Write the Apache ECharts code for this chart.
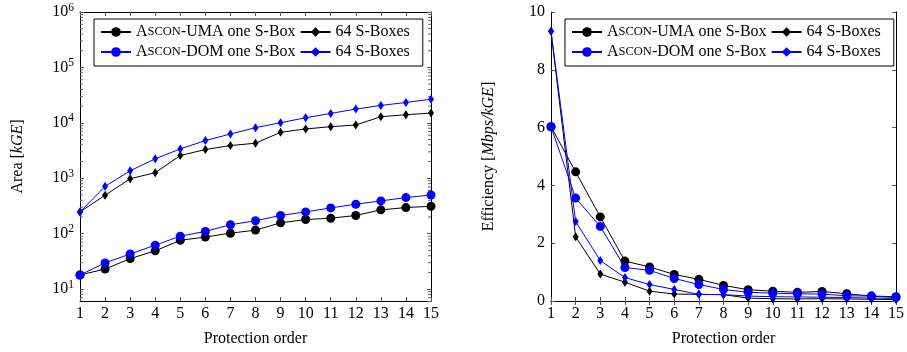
<!DOCTYPE html>
<html>
<head>
<meta charset="utf-8">
<title>Ascon area and efficiency</title>
<script src="https://cdn.jsdelivr.net/npm/echarts@6/dist/echarts.min.js"></script>
<style>
  html, body { margin: 0; background: #fff; }
  #chart { width: 907px; height: 352px; }
</style>
</head>
<body>
<div id="chart"></div>
<script>
// protection order on x
var orders = [1, 2, 3, 4, 5, 6, 7, 8, 9, 10, 11, 12, 13, 14, 15];

// area [kGE]
var areaUmaOne = [18, 23, 35.5, 49, 76, 87, 102, 116, 157, 180, 190, 213, 269, 296, 313];
var areaUma64  = [247, 493, 980, 1260, 2570, 3300, 3890, 4290, 6750, 7750, 8530, 9140, 12900, 14000, 15000];
var areaDomOne = [18, 29.7, 43, 62, 90, 110, 145, 171, 213, 247, 292, 340, 390, 448, 500];
var areaDom64  = [247, 714, 1365, 2240, 3390, 4780, 6290, 8180, 10050, 12360, 14800, 17700, 20600, 23300, 26700];

// efficiency [Mbps/kGE]
var effUmaOne = [6.03, 4.47, 2.91, 1.38, 1.18, 0.92, 0.75, 0.54, 0.39, 0.34, 0.30, 0.33, 0.25, 0.17, 0.15];
var effUma64  = [9.33, 2.22, 0.93, 0.65, 0.34, 0.24, 0.23, 0.22, 0.10, 0.08, 0.07, 0.08, 0.07, 0.06, 0.05];
var effDomOne = [6.03, 3.56, 2.58, 1.16, 1.06, 0.78, 0.57, 0.40, 0.30, 0.27, 0.25, 0.24, 0.18, 0.17, 0.12];
var effDom64  = [9.33, 2.75, 1.40, 0.81, 0.57, 0.40, 0.23, 0.22, 0.17, 0.15, 0.14, 0.13, 0.12, 0.10, 0.09];

var names = ['ASCON-UMA one S-Box', 'ASCON-UMA 64 S-Boxes', 'ASCON-DOM one S-Box', 'ASCON-DOM 64 S-Boxes'];
var legendText = {
  'ASCON-UMA one S-Box': 'A{sc|SCON}-UMA one S-Box',
  'ASCON-UMA 64 S-Boxes': '64 S-Boxes',
  'ASCON-DOM one S-Box': 'A{sc|SCON}-DOM one S-Box',
  'ASCON-DOM 64 S-Boxes': '64 S-Boxes'
};

var FONT = 'Liberation Serif';
var FS = 16;
var chart = echarts.init(document.getElementById('chart'));

function pairs(vals) {
  return orders.map(function (o, i) { return [o, vals[i]]; });
}

// minor ticks of the log axis (2..9 x 10^n)
var minorVals = [];
for (var e = 0; e < 6; e++) {
  for (var m = 2; m <= 9; m++) {
    var v = m * Math.pow(10, e);
    if (v > 6.2) minorVals.push([1, v]);
  }
}

function xAxes(grid) {
  return [
    {
      type: 'value', gridIndex: grid, min: 1, max: 15, interval: 1, position: 'bottom',
      name: 'Protection order', nameLocation: 'middle', nameGap: 30,
      nameTextStyle: { fontFamily: FONT, fontSize: FS, color: '#000' },
      axisLine: { lineStyle: { color: '#000', width: 1 } },
      axisTick: { inside: true, length: 4, lineStyle: { color: '#555' } },
      axisLabel: { fontFamily: FONT, fontSize: FS, color: '#000', margin: 5 },
      splitLine: { show: false }
    },
    {
      type: 'value', gridIndex: grid, min: 1, max: 15, interval: 1, position: 'top',
      axisLine: { lineStyle: { color: '#000', width: 1 } },
      axisTick: { inside: true, length: 4, lineStyle: { color: '#555' } },
      axisLabel: { show: false },
      splitLine: { show: false }
    }
  ];
}

var supLabel = {
  fontFamily: FONT, color: '#000', margin: 6, showMinLabel: false,
  formatter: function (v) {
    var p = Math.round(Math.log10(v));
    return '{b|10}{s|' + p + '}';
  },
  rich: {
    b: { fontFamily: FONT, fontSize: FS, color: '#000' },
    s: { fontFamily: FONT, fontSize: 11.5, color: '#000', padding: [0, 0, 9, 0] }
  }
};

function line(name, data, xi, yi, color, diamond) {
  return {
    name: name, type: 'line', xAxisIndex: xi, yAxisIndex: yi,
    data: pairs(data),
    symbol: diamond ? 'diamond' : 'circle',
    symbolSize: diamond ? [6, 9] : 9,
    showAllSymbol: true,
    lineStyle: { color: color, width: 1 },
    itemStyle: { color: color },
    emphasis: { disabled: true },
    animation: false
  };
}

function legend(left) {
  return {
    left: left, top: 19, width: 330,
    orient: 'horizontal',
    data: names,
    itemWidth: 30, itemHeight: 12, itemGap: 4,
    padding: [5, 13, 6, 6],
    borderColor: '#000', borderWidth: 1,
    formatter: function (n) { return legendText[n]; },
    textStyle: {
      fontFamily: FONT, fontSize: FS, color: '#000',
      rich: { sc: { fontFamily: FONT, fontSize: 12.5, color: '#000' } }
    },
    selectedMode: false
  };
}

var option = {
  backgroundColor: '#fff',
  animation: false,
  legend: [legend(94), legend(565)],
  grid: [
    { left: 80, right: 476, top: 12, bottom: 49 },
    { left: 551, right: 6, top: 12, bottom: 50 }
  ],
  xAxis: xAxes(0).concat(xAxes(1)),
  yAxis: [
    {
      type: 'log', logBase: 10, gridIndex: 0, min: 6.1, max: 1000000, position: 'left',
      name: 'Area [{i|kGE}]', nameLocation: 'middle', nameGap: 54,
      nameTextStyle: { fontFamily: FONT, fontSize: FS, color: '#000',
        rich: { i: { fontFamily: FONT, fontSize: FS, fontStyle: 'italic', color: '#000' } } },
      axisLine: { show: true, lineStyle: { color: '#000', width: 1 } },
      axisTick: { inside: true, length: 4, lineStyle: { color: '#555' } },
      axisLabel: supLabel,
      splitLine: { show: false }
    },
    {
      type: 'log', logBase: 10, gridIndex: 0, min: 6.1, max: 1000000, position: 'right',
      axisLine: { show: true, lineStyle: { color: '#000', width: 1 } },
      axisTick: { inside: true, length: 4, lineStyle: { color: '#555' } },
      axisLabel: { show: false },
      splitLine: { show: false }
    },
    {
      type: 'value', gridIndex: 1, min: 0, max: 10, interval: 2, position: 'left',
      name: 'Efficiency [{i|Mbps/kGE}]', nameLocation: 'middle', nameGap: 54,
      nameTextStyle: { fontFamily: FONT, fontSize: FS, color: '#000',
        rich: { i: { fontFamily: FONT, fontSize: FS, fontStyle: 'italic', color: '#000' } } },
      axisLine: { show: true, lineStyle: { color: '#000', width: 1 } },
      axisTick: { inside: true, length: 4, lineStyle: { color: '#555' } },
      axisLabel: { fontFamily: FONT, fontSize: FS, color: '#000', margin: 6 },
      splitLine: { show: false }
    },
    {
      type: 'value', gridIndex: 1, min: 0, max: 10, interval: 2, position: 'right',
      axisLine: { show: true, lineStyle: { color: '#000', width: 1 } },
      axisTick: { inside: true, length: 4, lineStyle: { color: '#555' } },
      axisLabel: { show: false },
      splitLine: { show: false }
    }
  ],
  series: [
    {
      type: 'custom', xAxisIndex: 0, yAxisIndex: 0, silent: true, z: 1,
      data: minorVals,
      renderItem: function (params, api) {
        var l = api.coord([1, api.value(1)]);
        var r = api.coord([15, api.value(1)]);
        var st = { stroke: '#666', lineWidth: 1 };
        return { type: 'group', children: [
          { type: 'line', shape: { x1: l[0], y1: l[1], x2: l[0] + 3, y2: l[1] }, style: st },
          { type: 'line', shape: { x1: r[0] - 3, y1: r[1], x2: r[0], y2: r[1] }, style: st }
        ] };
      }
    },
    line(names[0], areaUmaOne, 0, 0, '#000', false),
    line(names[1], areaUma64, 0, 0, '#000', true),
    line(names[2], areaDomOne, 0, 0, '#0000ff', false),
    line(names[3], areaDom64, 0, 0, '#0000ff', true),
    line(names[0], effUmaOne, 2, 2, '#000', false),
    line(names[1], effUma64, 2, 2, '#000', true),
    line(names[2], effDomOne, 2, 2, '#0000ff', false),
    line(names[3], effDom64, 2, 2, '#0000ff', true)
  ]
};

chart.setOption(option);
</script>
</body>
</html>
